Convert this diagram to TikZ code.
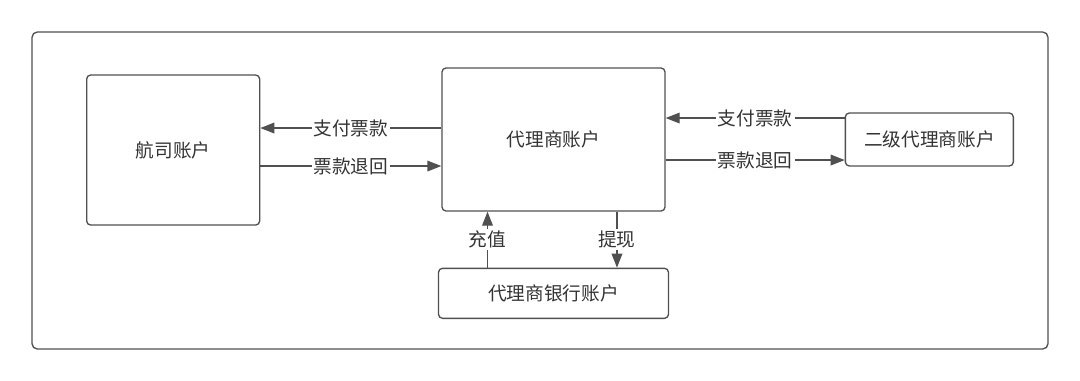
\documentclass[tikz,border=0pt]{standalone}
\usepackage{fontspec}
\newfontfamily\cjk{Noto Sans CJK SC}
\usetikzlibrary{positioning,arrows.meta}
\definecolor{linegray}{HTML}{505050}
\definecolor{textgray}{HTML}{333333}

\begin{document}
\begin{tikzpicture}[x=0.75pt,y=-0.75pt]
		% styles
		\tikzset{
			acct/.style={draw=linegray, line width=1pt, rounded corners=3pt, align=center, inner sep=0pt, text=textgray, font=\cjk\fontsize{14}{16}\selectfont},
			flow/.style={draw=linegray, line width=1pt, -{Triangle[length=10.5pt,width=8pt]}},
			lbl/.style={fill=white, inner sep=1.5pt, text=textgray, font=\cjk\fontsize{14}{16}\selectfont}
		}
		\useasboundingbox (0,0) rectangle (1080,381);

		% frame
		\draw[linegray, line width=1pt, rounded corners=4pt] (32,32) rectangle (1048,349);

		% nodes
		\node[acct, minimum width=167.25pt, minimum height=107.25pt] (agent) at (553.5,139.5) {代理商账户};
		\node[acct, minimum width=129.75pt, minimum height=112.5pt, left=135.75pt of agent, yshift=-7.9pt] (airline) {航司账户};
		\node[acct, minimum width=126pt, minimum height=39.75pt, right=134.25pt of agent] (sub) {二级代理商账户};
		\node[acct, minimum width=172.5pt, minimum height=37.5pt, below=42pt of agent] (bank) {代理商银行账户};

		% connections
		\coordinate (payL) at ([yshift=8.6pt]agent.west);
		\coordinate (backL) at ([yshift=-19.9pt]agent.west);
		\draw[flow] (payL) -- (payL -| airline.east) node[midway,lbl] {支付票款};
		\draw[flow] (backL -| airline.east) -- (backL) node[midway,lbl] {票款退回};

		\coordinate (payR) at ([yshift=16.1pt]sub.west);
		\coordinate (backR) at ([yshift=-15.4pt]agent.east);
		\draw[flow] (payR) -- (payR -| agent.east) node[midway,lbl] {支付票款};
		\draw[flow] (backR) -- (backR -| sub.west) node[midway,lbl] {票款退回};

		% bank account below
		\coordinate (topup) at ([xshift=-49.5pt]bank.north);
		\coordinate (wdraw) at ([xshift=47.6pt]agent.south);
		\draw[flow] (topup) -- (topup |- agent.south) node[midway,lbl] {充值};
		\draw[flow] (wdraw) -- (wdraw |- bank.north) node[midway,lbl] {提现};

\end{tikzpicture}
\end{document}
